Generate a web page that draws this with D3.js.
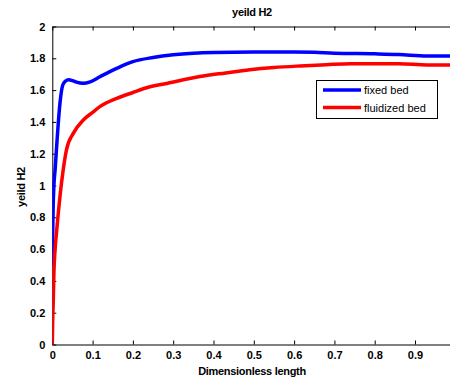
<!DOCTYPE html>
<html><head><meta charset="utf-8">
<script src="https://cdn.jsdelivr.net/npm/d3@7"></script>
<style>body{margin:0;background:#fff}svg{display:block}</style>
</head><body>
<script>
const title = "yeild H2";
const xLabel = "Dimensionless length";
const yLabel = "yeild H2";
const seriesNames = ["fixed bed", "fluidized bed"];
const seriesColors = ["#0000ff", "#ff0000"];
const xTicks = [0, 0.1, 0.2, 0.3, 0.4, 0.5, 0.6, 0.7, 0.8, 0.9];
const yTicks = [0, 0.2, 0.4, 0.6, 0.8, 1, 1.2, 1.4, 1.6, 1.8, 2];

const fixedX = [0, 0.001, 0.002, 0.004, 0.007, 0.0125, 0.019, 0.026, 0.033, 0.04, 0.05, 0.06, 0.077, 0.094, 0.118, 0.16, 0.2, 0.25, 0.3, 0.35, 0.4, 0.5, 0.6, 0.65, 0.7, 0.8, 0.86, 0.93, 1.0];
const fixedY = [0.5, 0.7, 0.85, 1.0, 1.1, 1.31, 1.517, 1.632, 1.657, 1.665, 1.66, 1.65, 1.643, 1.652, 1.684, 1.737, 1.779, 1.805, 1.822, 1.832, 1.837, 1.84, 1.84, 1.838, 1.832, 1.828, 1.824, 1.815, 1.815];

const fluidX = [0, 0.001, 0.0025, 0.004, 0.007, 0.011, 0.015, 0.019, 0.027, 0.035, 0.052, 0.077, 0.1, 0.118, 0.16, 0.2, 0.234, 0.284, 0.325, 0.366, 0.43, 0.49, 0.55, 0.615, 0.68, 0.74, 0.8, 0.86, 0.93, 0.985, 1.0];
const fluidY = [0, 0.15, 0.28, 0.45, 0.6, 0.72, 0.83, 0.93, 1.097, 1.223, 1.328, 1.412, 1.46, 1.496, 1.548, 1.585, 1.615, 1.642, 1.665, 1.685, 1.708, 1.728, 1.742, 1.752, 1.76, 1.766, 1.766, 1.766, 1.758, 1.758, 1.758];

const W = 450, H = 381;
const L = 52.3, R = 455.3, T = 26.5, B = 344.5;
const x = d3.scaleLinear().domain([0, 1]).range([L, R]);
const y = d3.scaleLinear().domain([0, 2]).range([B, T]);

const svg = d3.select("body").append("svg").attr("width", W).attr("height", H);
const font = "'Liberation Sans', Arial, sans-serif";

svg.append("defs").append("clipPath").attr("id", "clip")
  .append("rect").attr("x", L).attr("y", T).attr("width", R - L).attr("height", B - T);

// axes
const axB = d3.axisBottom(x).tickValues(xTicks).tickSizeInner(-4).tickSizeOuter(0).tickPadding(7).tickFormat(d => d === 0 ? "0" : d3.format(".1f")(d));
const axT = d3.axisTop(x).tickValues(xTicks).tickSizeInner(-4).tickSizeOuter(0).tickFormat("");
const axL = d3.axisLeft(y).tickValues(yTicks).tickSizeInner(-4).tickSizeOuter(0).tickPadding(7).tickFormat(d => d3.format("~g")(d));

function style(g) {
  g.selectAll("path").attr("stroke", "#000").attr("stroke-width", 1);
  g.selectAll("line").attr("stroke", "#000").attr("stroke-width", 1);
  g.selectAll("text").attr("fill", "#000").attr("font-family", font).attr("font-weight", "bold").attr("font-size", 11);
}
svg.append("g").attr("transform", `translate(0,${B})`).call(axB).call(style);
svg.append("g").attr("transform", `translate(0,${T})`).call(axT).call(style);
svg.append("g").attr("transform", `translate(${L},0)`).call(axL).call(style);

// lines
const line = d3.line().x(d => x(d[0])).y(d => y(d[1])).curve(d3.curveMonotoneX);
const series = [d3.zip(fixedX, fixedY), d3.zip(fluidX, fluidY)];
series.forEach((s, i) => {
  svg.append("path").datum(s).attr("d", line).attr("fill", "none")
    .attr("stroke", seriesColors[i]).attr("stroke-width", 3.5)
    .attr("stroke-linejoin", "round").attr("clip-path", "url(#clip)");
});

// titles
svg.append("text").attr("x", 252).attr("y", 16).attr("text-anchor", "middle")
  .attr("font-family", font).attr("font-weight", "bold").attr("font-size", 11).attr("letter-spacing", -0.3).text(title);
svg.append("text").attr("x", 252).attr("y", 375).attr("text-anchor", "middle")
  .attr("font-family", font).attr("font-weight", "bold").attr("font-size", 11).attr("letter-spacing", -0.3).text(xLabel);
svg.append("text").attr("transform", "translate(25,187) rotate(-90)").attr("text-anchor", "middle")
  .attr("font-family", font).attr("font-weight", "bold").attr("font-size", 11).attr("letter-spacing", -0.3).text(yLabel);

// legend
const lg = svg.append("g");
lg.append("rect").attr("x", 316.5).attr("y", 80.5).attr("width", 121).attr("height", 38)
  .attr("fill", "#fff").attr("stroke", "#000").attr("stroke-width", 1);
seriesNames.forEach((n, i) => {
  const yy = 90 + i * 17.5;
  lg.append("line").attr("x1", 323).attr("x2", 361).attr("y1", yy).attr("y2", yy)
    .attr("stroke", seriesColors[i]).attr("stroke-width", 3.5);
  lg.append("text").attr("x", 364).attr("y", yy + 4).attr("font-family", font)
    .attr("font-size", 11).attr("fill", "#000").text(n);
});
</script>
</body></html>
